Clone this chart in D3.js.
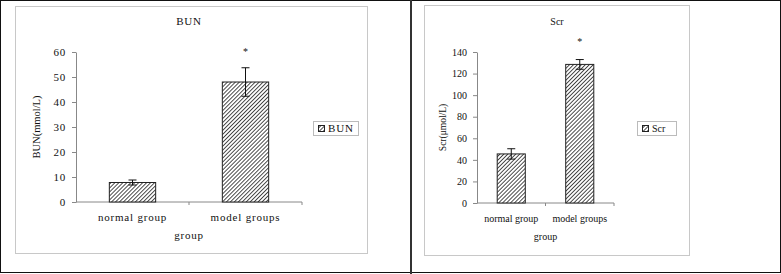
<!DOCTYPE html>
<html>
<head>
<meta charset="utf-8">
<script src="https://cdn.jsdelivr.net/npm/d3@7"></script>
<style>
  body { margin: 0; background: #fff; }
  svg text { font-family: "Liberation Serif", "Times New Roman", serif; fill: #111; }
</style>
</head>
<body>
<svg id="chart" width="781" height="274"></svg>
<script>
// datos
const groups = ["normal group", "model groups"];
const bunMeans = [7.8, 48];
const bunErrors = [1.0, 5.7];
const scrMeans = [45.5, 128.5];
const scrErrors = [4.8, 4.5];
const bunTicks = [0, 10, 20, 30, 40, 50, 60];
const scrTicks = [0, 20, 40, 60, 80, 100, 120, 140];

const svg = d3.select("#chart");

// patrón rayado de las barras
const defs = svg.append("defs");
defs.append("pattern")
  .attr("id", "hatch")
  .attr("patternUnits", "userSpaceOnUse")
  .attr("width", 2.8)
  .attr("height", 2.8)
  .attr("patternTransform", "rotate(45)")
  .call((p) => {
    p.append("rect").attr("width", 2.8).attr("height", 2.8).attr("fill", "#fff");
    p.append("line").attr("x1", 0).attr("y1", 0).attr("x2", 0).attr("y2", 2.8)
      .attr("stroke", "#222").attr("stroke-width", 1.6);
  });

// marco exterior y separador
svg.append("rect").attr("x", 0.5).attr("y", 0.5).attr("width", 780).attr("height", 272)
  .attr("fill", "none").attr("stroke", "#111");
svg.append("line").attr("x1", 411).attr("x2", 411).attr("y1", 0).attr("y2", 274)
  .attr("stroke", "#333").attr("stroke-width", 2);

function drawPanel(cfg) {
  const g = svg.append("g");

  g.append("rect")
    .attr("x", cfg.box[0] + 0.5).attr("y", cfg.box[1] + 0.5)
    .attr("width", cfg.box[2]).attr("height", cfg.box[3])
    .attr("fill", "none").attr("stroke", "#c8c8c8");

  const x = d3.scaleBand().domain(groups).range([cfg.x0, cfg.x1]).paddingInner(0.59).paddingOuter(0.295);
  const xb = d3.scaleBand().domain(groups).range([cfg.x0, cfg.x1]);
  const y = d3.scaleLinear().domain([0, d3.max(cfg.ticks)]).range([cfg.y0, cfg.y1]);

  // eje y
  const yAxis = g.append("g")
    .attr("transform", `translate(${cfg.x0},0)`)
    .call(d3.axisLeft(y).tickValues(cfg.ticks).tickSize(4).tickSizeOuter(0).tickPadding(6));
  yAxis.select(".domain").attr("stroke", "#888");
  yAxis.selectAll(".tick line").attr("stroke", "#888");
  yAxis.selectAll("text").attr("font-family", null).style("font-size", cfg.fs + "px")
    .style("letter-spacing", cfg.ls + "px");

  // eje x
  const xAxis = g.append("g").attr("transform", `translate(0,${cfg.y0})`);
  xAxis.append("line").attr("x1", cfg.x0).attr("x2", cfg.x1).attr("stroke", "#888");
  xAxis.selectAll("line.tk")
    .data(groups)
    .join("line")
    .attr("class", "tk")
    .attr("x1", (d) => xb(d) + xb.bandwidth()).attr("x2", (d) => xb(d) + xb.bandwidth())
    .attr("y1", 0).attr("y2", 3).attr("stroke", "#888");
  xAxis.selectAll("text")
    .data(groups)
    .join("text")
    .attr("x", (d) => xb(d) + xb.bandwidth() / 2)
    .attr("y", 19)
    .attr("text-anchor", "middle")
    .style("font-size", cfg.fs + "px")
    .style("letter-spacing", cfg.ls + "px")
    .text((d) => d);

  // barras
  g.selectAll("rect.bar")
    .data(cfg.means)
    .join("rect")
    .attr("class", "bar")
    .attr("x", (d, i) => x(groups[i]))
    .attr("y", (d) => y(d))
    .attr("width", x.bandwidth())
    .attr("height", (d) => y(0) - y(d))
    .attr("fill", "url(#hatch)")
    .attr("stroke", "#222")
    .attr("stroke-width", 1);

  // barras de error
  const eb = g.selectAll("g.err")
    .data(cfg.means)
    .join("g")
    .attr("class", "err")
    .attr("stroke", "#111");
  eb.append("line")
    .attr("x1", (d, i) => xb(groups[i]) + xb.bandwidth() / 2)
    .attr("x2", (d, i) => xb(groups[i]) + xb.bandwidth() / 2)
    .attr("y1", (d, i) => y(d + cfg.errors[i]))
    .attr("y2", (d, i) => y(d - cfg.errors[i]));
  [1, -1].forEach((s) => {
    eb.append("line")
      .attr("x1", (d, i) => xb(groups[i]) + xb.bandwidth() / 2 - 4)
      .attr("x2", (d, i) => xb(groups[i]) + xb.bandwidth() / 2 + 4)
      .attr("y1", (d, i) => y(d + s * cfg.errors[i]))
      .attr("y2", (d, i) => y(d + s * cfg.errors[i]));
  });

  // asterisco
  g.append("text")
    .attr("x", xb(groups[1]) + xb.bandwidth() / 2)
    .attr("y", cfg.starY)
    .attr("text-anchor", "middle")
    .style("font-size", "10px")
    .text("*");

  // títulos
  g.append("text")
    .attr("x", cfg.titleX).attr("y", 25)
    .attr("text-anchor", "middle")
    .style("font-size", cfg.fs + "px")
    .style("letter-spacing", cfg.ls + "px")
    .text(cfg.title);

  g.append("text")
    .attr("x", (cfg.x0 + cfg.x1) / 2).attr("y", cfg.y0 + 37)
    .attr("text-anchor", "middle")
    .style("font-size", cfg.fs + "px")
    .style("letter-spacing", cfg.ls + "px")
    .text("group");

  g.append("text")
    .attr("transform", `translate(${cfg.yLabelX},${(cfg.y0 + cfg.y1) / 2}) rotate(-90)`)
    .attr("text-anchor", "middle")
    .style("font-size", cfg.fs - 0.5 + "px")
    .text(cfg.yLabel);

  // leyenda
  const lg = g.append("g").attr("transform", `translate(${cfg.legend[0]},${cfg.legend[1]})`);
  lg.append("rect")
    .attr("x", 0.5).attr("y", 0.5)
    .attr("width", cfg.legend[2]).attr("height", 14)
    .attr("fill", "#fff").attr("stroke", "#bbb");
  lg.append("rect")
    .attr("x", 5.5).attr("y", 4.5).attr("width", 6).attr("height", 6)
    .attr("fill", "url(#hatch)").attr("stroke", "#222");
  lg.append("text")
    .attr("x", 15).attr("y", 11)
    .style("font-size", cfg.fs + "px")
    .style("letter-spacing", cfg.ls + "px")
    .text(cfg.title);
}

drawPanel({
  box: [15, 6, 352, 247],
  x0: 76, x1: 302, y0: 202, y1: 52,
  ticks: bunTicks, means: bunMeans, errors: bunErrors,
  title: "BUN", titleX: 189, starY: 55,
  yLabel: "BUN(mmol/L)", yLabelX: 40,
  legend: [313, 121, 45],
  fs: 11, ls: 0.8
});

drawPanel({
  box: [424, 5, 265, 250],
  x0: 477, x1: 614, y0: 203, y1: 52,
  ticks: scrTicks, means: scrMeans, errors: scrErrors,
  title: "Scr", titleX: 557, starY: 45,
  yLabel: "Scr(μmol/L)", yLabelX: 446,
  legend: [637, 121, 39],
  fs: 10, ls: 0
});
</script>
</body>
</html>
